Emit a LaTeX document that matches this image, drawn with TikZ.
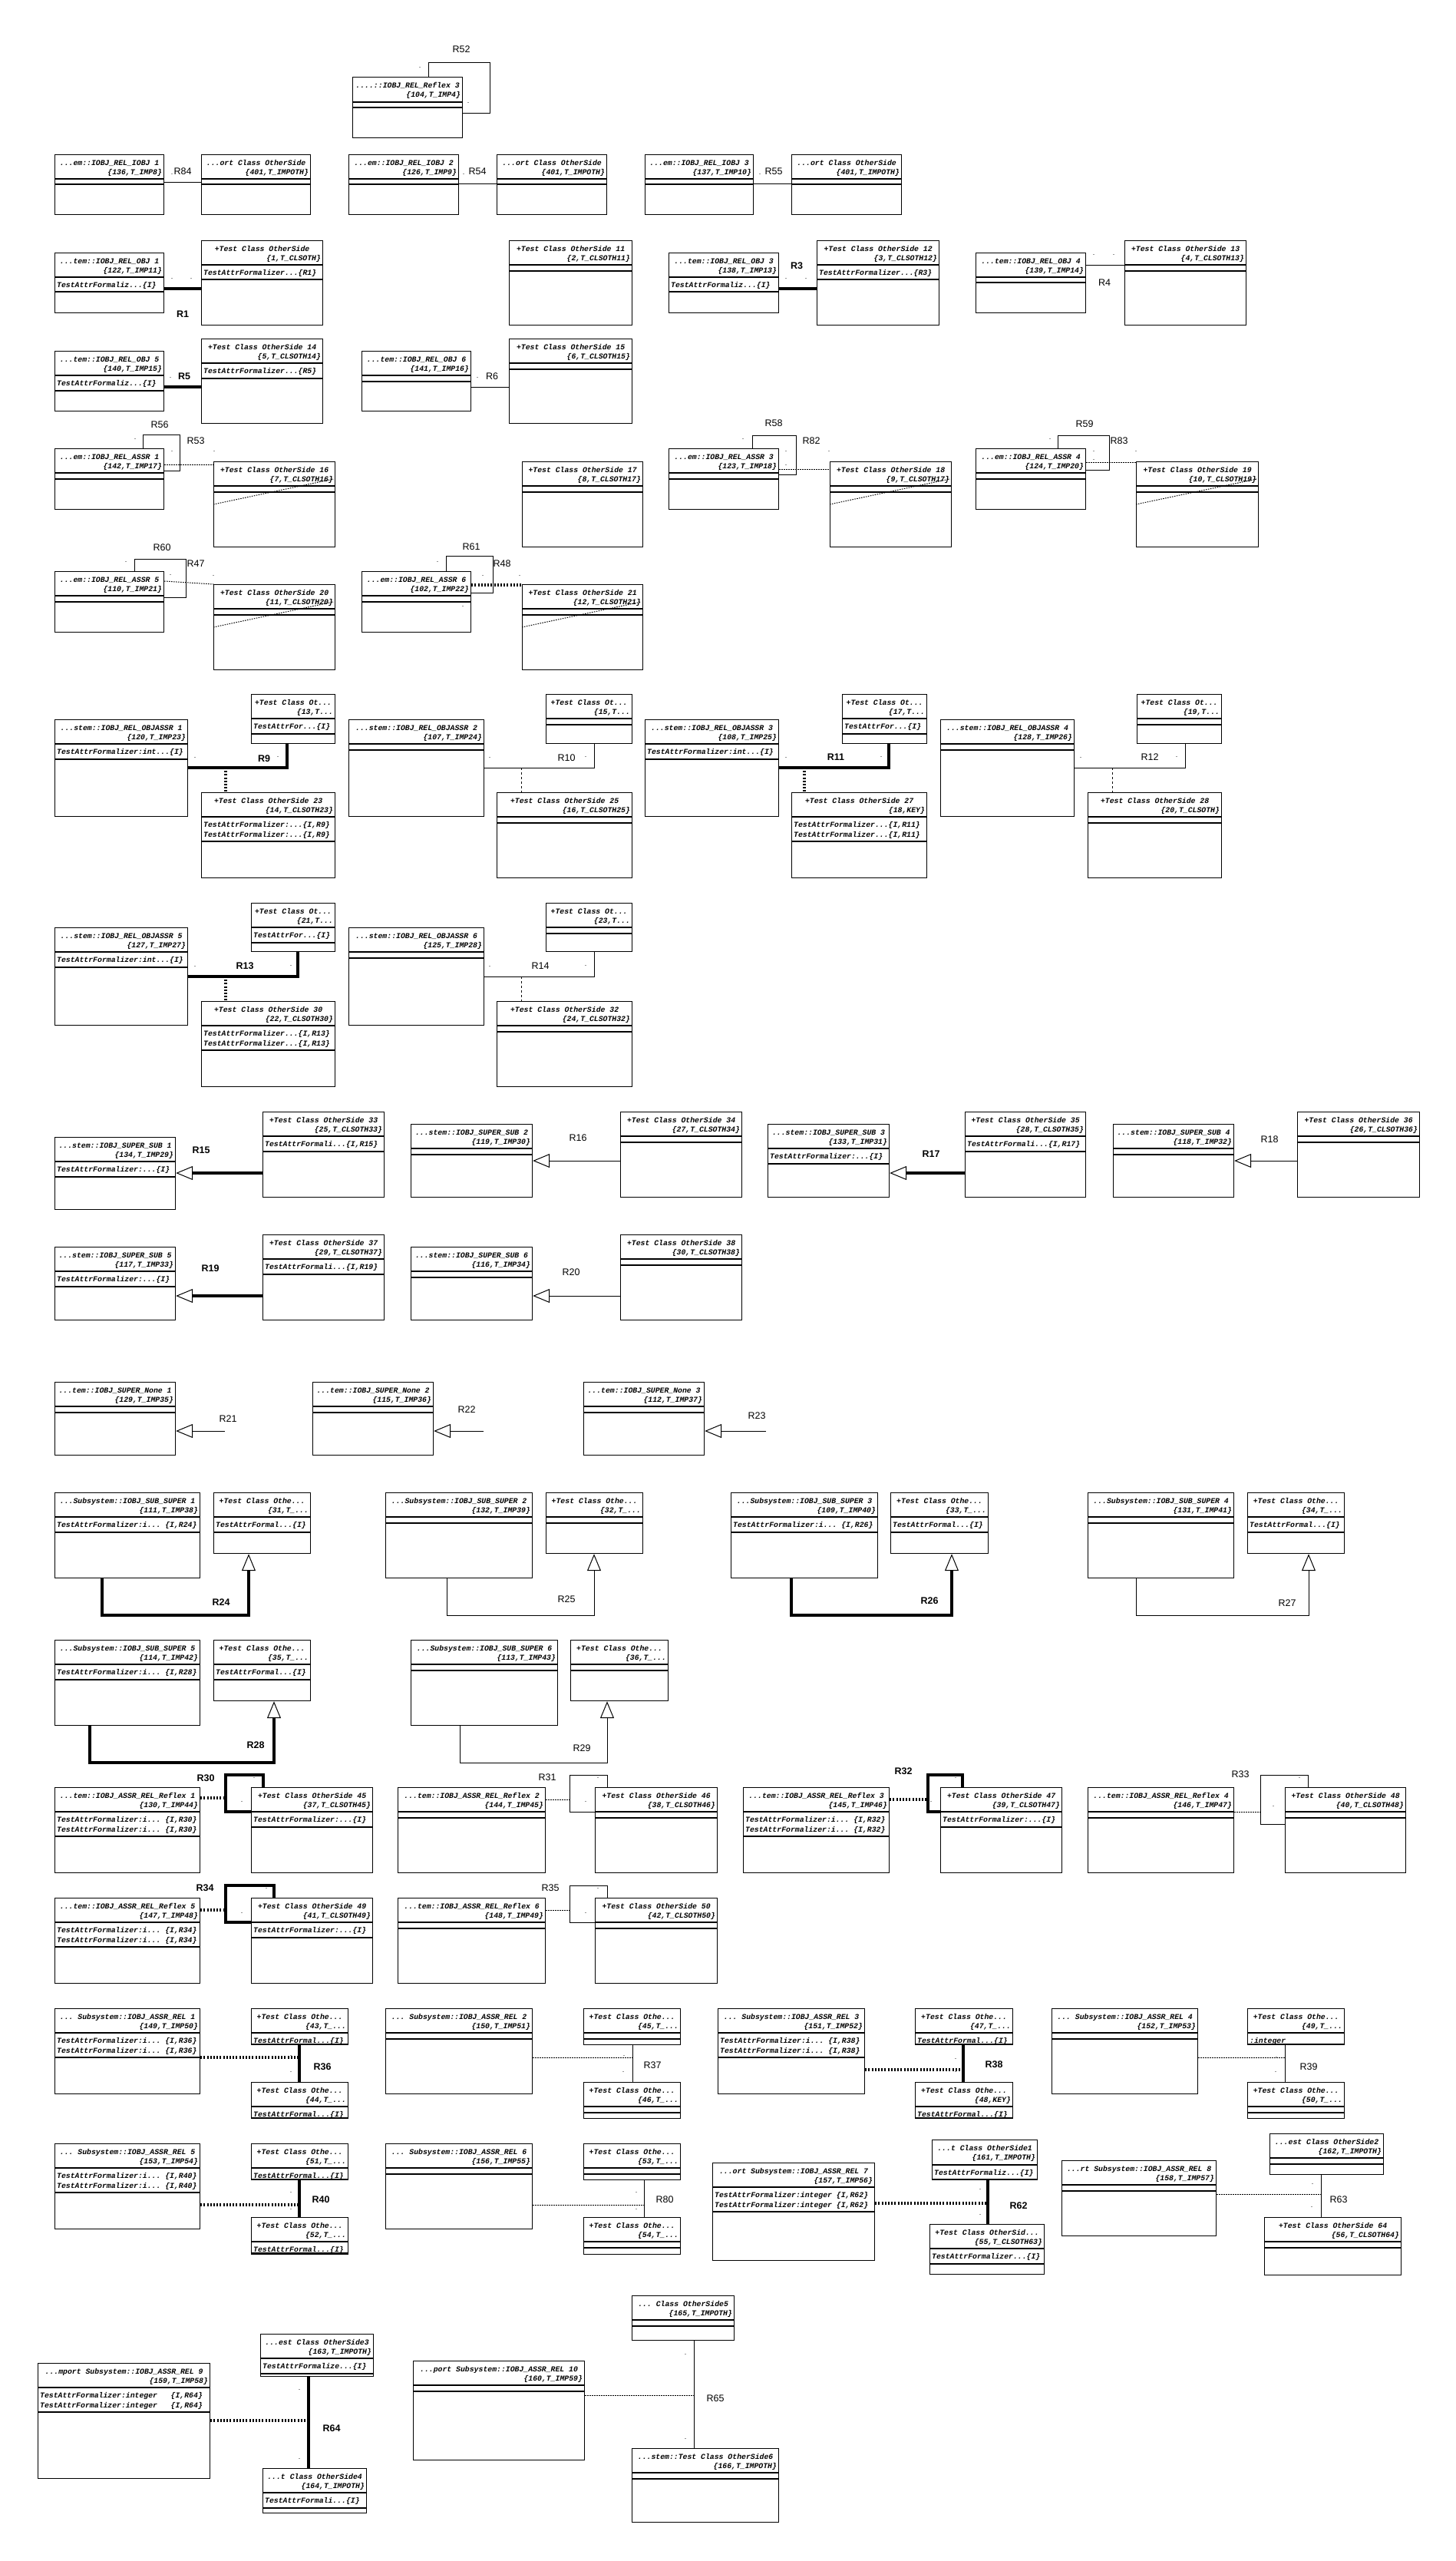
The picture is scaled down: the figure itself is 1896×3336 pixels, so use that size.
\documentclass[tikz,border=0pt]{standalone}
\usepackage{fontspec}
\setmainfont{Liberation Sans}
\setsansfont{Liberation Sans}
\setmonofont{Liberation Mono}
\usetikzlibrary{arrows.meta}

\tikzset{
  classbox/.style={draw, line width=1.2pt, rectangle, inner sep=0pt, anchor=north west},
  classbox line/.style={line width=1.2pt},
  hdrtext/.style={inner sep=0pt, font=\fontsize{9.8}{12}\ttfamily\bfseries\itshape},
  attrtext/.style={inner sep=0pt, anchor=north west, align=left, font=\fontsize{9.8}{13}\ttfamily\bfseries\itshape},
  rlabel/.style={inner sep=0pt, font=\fontsize{12.5}{14}\sffamily},
  rbold/.style={inner sep=0pt, font=\fontsize{12.5}{14}\sffamily\bfseries},
  mult/.style={inner sep=0pt, font=\fontsize{9}{10}\sffamily},
  wire/.style={line width=1pt},
  heavy/.style={line width=3.6pt},
  dotwire/.style={line width=1pt, dash pattern=on 1.5pt off 1.5pt},
  heavydot/.style={line width=3.5pt, dash pattern=on 2pt off 2.2pt},
  dashwire/.style={line width=1pt, dash pattern=on 3.3pt off 2.7pt},
  gen/.style={-{Triangle[open, length=22pt, width=18pt, line width=1pt]}}
}

% \clsbox{name}{x,y}{width}{height}{header}{attr section}{title}{id}{attrs}
\newcommand{\clsbox}[9]{%
  \node[classbox, minimum width=#3pt, minimum height=#4pt] (#1) at (#2) {};
  \draw[classbox line] ([yshift=-#5pt]#1.north west) -- ([yshift=-#5pt]#1.north east);
  \draw[classbox line] ([yshift=-#5pt-#6pt]#1.north west) -- ([yshift=-#5pt-#6pt]#1.north east);
  \node[hdrtext, anchor=base] (#1-t) at ([yshift=-14pt]#1.north) {#7};
  \node[hdrtext, anchor=base east] (#1-i) at ([shift={(-3pt,-26.5pt)}]#1.north east) {#8};
  \node[attrtext] (#1-a) at ([shift={(3pt,-#5pt-6pt)}]#1.north west) {#9};
}

\begin{document}
\begin{tikzpicture}[x=1pt, y=-1pt]
\fill[white] (0,0) rectangle (1896,3336);
\useasboundingbox (0,0) rectangle (1896,3336);

% Classes:
\clsbox{rfx3}{459,100}{143}{79}{33}{7}{....::IOBJ\_REL\_Reflex 3}{\{104,T\_IMP4\}}{}

\clsbox{io1}{71,201}{142}{78}{32}{7}{...em::IOBJ\_REL\_IOBJ 1}{\{136,T\_IMP8\}}{}
\clsbox{os1}{262,201}{142}{78}{32}{7}{...ort Class OtherSide}{\{401,T\_IMPOTH\}}{}
\clsbox{io2}{454,201}{143}{78}{32}{7}{...em::IOBJ\_REL\_IOBJ 2}{\{126,T\_IMP9\}}{}
\clsbox{os2}{647,201}{143}{78}{32}{7}{...ort Class OtherSide}{\{401,T\_IMPOTH\}}{}
\clsbox{io3}{840,201}{141}{78}{32}{7}{...em::IOBJ\_REL\_IOBJ 3}{\{137,T\_IMP10\}}{}
\clsbox{os3}{1031,201}{143}{78}{32}{7}{...ort Class OtherSide}{\{401,T\_IMPOTH\}}{}

\clsbox{ob1}{71,329}{142}{78}{32}{19}{...tem::IOBJ\_REL\_OBJ 1}{\{122,T\_IMP11\}}{TestAttrFormaliz...\{I\}}
\clsbox{cs1}{262,313}{158}{110}{32}{19}{+Test Class OtherSide}{\{1,T\_CLSOTH\}}{TestAttrFormalizer...\{R1\}}
\clsbox{cs11}{663,313}{160}{110}{32}{8}{+Test Class OtherSide 11}{\{2,T\_CLSOTH11\}}{}
\clsbox{ob3}{871,329}{143}{78}{32}{19}{...tem::IOBJ\_REL\_OBJ 3}{\{138,T\_IMP13\}}{TestAttrFormaliz...\{I\}}
\clsbox{cs12}{1064,313}{159}{110}{32}{19}{+Test Class OtherSide 12}{\{3,T\_CLSOTH12\}}{TestAttrFormalizer...\{R3\}}
\clsbox{ob4}{1271,329}{143}{78}{32}{7}{...tem::IOBJ\_REL\_OBJ 4}{\{139,T\_IMP14\}}{}
\clsbox{cs13}{1465,313}{158}{110}{32}{8}{+Test Class OtherSide 13}{\{4,T\_CLSOTH13\}}{}

\clsbox{ob5}{71,457}{142}{78}{32}{20}{...tem::IOBJ\_REL\_OBJ 5}{\{140,T\_IMP15\}}{TestAttrFormaliz...\{I\}}
\clsbox{cs14}{262,441}{158}{110}{32}{20}{+Test Class OtherSide 14}{\{5,T\_CLSOTH14\}}{TestAttrFormalizer...\{R5\}}
\clsbox{ob6}{471,457}{142}{78}{32}{8}{...tem::IOBJ\_REL\_OBJ 6}{\{141,T\_IMP16\}}{}
\clsbox{cs15}{663,441}{160}{110}{32}{8}{+Test Class OtherSide 15}{\{6,T\_CLSOTH15\}}{}

\clsbox{as1}{71,584}{142}{79}{32}{8}{...em::IOBJ\_REL\_ASSR 1}{\{142,T\_IMP17\}}{}
\clsbox{cs16}{278,601}{158}{111}{32}{8}{+Test Class OtherSide 16}{\{7,T\_CLSOTH16\}}{}
\clsbox{cs17}{680,601}{157}{111}{32}{8}{+Test Class OtherSide 17}{\{8,T\_CLSOTH17\}}{}
\clsbox{as3}{871,584}{143}{79}{32}{8}{...em::IOBJ\_REL\_ASSR 3}{\{123,T\_IMP18\}}{}
\clsbox{cs18}{1081,601}{158}{111}{32}{8}{+Test Class OtherSide 18}{\{9,T\_CLSOTH17\}}{}
\clsbox{as4}{1271,584}{143}{79}{32}{8}{...em::IOBJ\_REL\_ASSR 4}{\{124,T\_IMP20\}}{}
\clsbox{cs19}{1480,601}{159}{111}{32}{8}{+Test Class OtherSide 19}{\{10,T\_CLSOTH19\}}{}

\clsbox{as5}{71,744}{142}{79}{32}{8}{...em::IOBJ\_REL\_ASSR 5}{\{110,T\_IMP21\}}{}
\clsbox{cs20}{278,761}{158}{111}{32}{8}{+Test Class OtherSide 20}{\{11,T\_CLSOTH20\}}{}
\clsbox{as6}{471,744}{142}{79}{32}{8}{...em::IOBJ\_REL\_ASSR 6}{\{102,T\_IMP22\}}{}
\clsbox{cs21}{680,761}{157}{111}{32}{8}{+Test Class OtherSide 21}{\{12,T\_CLSOTH21\}}{}

\clsbox{oa1}{71,937}{173}{126}{32}{20}{...stem::IOBJ\_REL\_OBJASSR 1}{\{120,T\_IMP23\}}{TestAttrFormalizer:int...\{I\}}
\clsbox{ot13}{327,904}{109}{64}{32}{20}{+Test Class Ot...}{\{13,T...}{TestAttrFor...\{I\}}
\clsbox{cs23}{262,1032}{174}{111}{32}{32}{+Test Class OtherSide 23}{\{14,T\_CLSOTH23\}}{TestAttrFormalizer:...\{I,R9\}\\TestAttrFormalizer:...\{I,R9\}}
\clsbox{oa2}{454,937}{176}{126}{32}{8}{...stem::IOBJ\_REL\_OBJASSR 2}{\{107,T\_IMP24\}}{}
\clsbox{ot15}{711,904}{112}{64}{32}{8}{+Test Class Ot...}{\{15,T...}{}
\clsbox{cs25}{647,1032}{176}{111}{32}{8}{+Test Class OtherSide 25}{\{16,T\_CLSOTH25\}}{}
\clsbox{oa3}{840,937}{174}{126}{32}{20}{...stem::IOBJ\_REL\_OBJASSR 3}{\{108,T\_IMP25\}}{TestAttrFormalizer:int...\{I\}}
\clsbox{ot17}{1097,904}{110}{64}{32}{20}{+Test Class Ot...}{\{17,T...}{TestAttrFor...\{I\}}
\clsbox{cs27}{1031,1032}{176}{111}{32}{32}{+Test Class OtherSide 27}{\{18,KEY\}}{TestAttrFormalizer...\{I,R11\}\\TestAttrFormalizer...\{I,R11\}}
\clsbox{oa4}{1225,937}{174}{126}{32}{8}{...stem::IOBJ\_REL\_OBJASSR 4}{\{128,T\_IMP26\}}{}
\clsbox{ot19}{1481,904}{110}{64}{32}{8}{+Test Class Ot...}{\{19,T...}{}
\clsbox{cs28}{1417,1032}{174}{111}{32}{8}{+Test Class OtherSide 28}{\{20,T\_CLSOTH\}}{}

\clsbox{oa5}{71,1208}{173}{127}{32}{20}{...stem::IOBJ\_REL\_OBJASSR 5}{\{127,T\_IMP27\}}{TestAttrFormalizer:int...\{I\}}
\clsbox{ot21}{327,1176}{109}{63}{32}{20}{+Test Class Ot...}{\{21,T...}{TestAttrFor...\{I\}}
\clsbox{cs30}{262,1304}{174}{111}{32}{32}{+Test Class OtherSide 30}{\{22,T\_CLSOTH30\}}{TestAttrFormalizer...\{I,R13\}\\TestAttrFormalizer...\{I,R13\}}
\clsbox{oa6}{454,1208}{176}{127}{32}{8}{...stem::IOBJ\_REL\_OBJASSR 6}{\{125,T\_IMP28\}}{}
\clsbox{ot23}{711,1176}{112}{63}{32}{8}{+Test Class Ot...}{\{23,T...}{}
\clsbox{cs32}{647,1304}{176}{111}{32}{8}{+Test Class OtherSide 32}{\{24,T\_CLSOTH32\}}{}

\clsbox{ss1}{71,1481}{157}{94}{32}{20}{...stem::IOBJ\_SUPER\_SUB 1}{\{134,T\_IMP29\}}{TestAttrFormalizer:...\{I\}}
\clsbox{cs33}{342,1448}{158}{111}{32}{20}{+Test Class OtherSide 33}{\{25,T\_CLSOTH33\}}{TestAttrFormali...\{I,R15\}}
\clsbox{ss2}{535,1464}{158}{95}{32}{8}{...stem::IOBJ\_SUPER\_SUB 2}{\{119,T\_IMP30\}}{}
\clsbox{cs34}{808,1448}{158}{111}{32}{8}{+Test Class OtherSide 34}{\{27,T\_CLSOTH34\}}{}
\clsbox{ss3}{1000,1464}{158}{95}{32}{20}{...stem::IOBJ\_SUPER\_SUB 3}{\{133,T\_IMP31\}}{TestAttrFormalizer:...\{I\}}
\clsbox{cs35}{1257,1448}{157}{111}{32}{20}{+Test Class OtherSide 35}{\{28,T\_CLSOTH35\}}{TestAttrFormali...\{I,R17\}}
\clsbox{ss4}{1450,1464}{157}{95}{32}{8}{...stem::IOBJ\_SUPER\_SUB 4}{\{118,T\_IMP32\}}{}
\clsbox{cs36}{1690,1448}{159}{111}{32}{8}{+Test Class OtherSide 36}{\{26,T\_CLSOTH36\}}{}

\clsbox{ss5}{71,1624}{157}{95}{32}{20}{...stem::IOBJ\_SUPER\_SUB 5}{\{117,T\_IMP33\}}{TestAttrFormalizer:...\{I\}}
\clsbox{cs37}{342,1608}{158}{111}{32}{20}{+Test Class OtherSide 37}{\{29,T\_CLSOTH37\}}{TestAttrFormali...\{I,R19\}}
\clsbox{ss6}{535,1624}{158}{95}{32}{8}{...stem::IOBJ\_SUPER\_SUB 6}{\{116,T\_IMP34\}}{}
\clsbox{cs38}{808,1608}{158}{111}{32}{8}{+Test Class OtherSide 38}{\{30,T\_CLSOTH38\}}{}

\clsbox{sn1}{71,1800}{157}{95}{32}{8}{...tem::IOBJ\_SUPER\_None 1}{\{129,T\_IMP35\}}{}
\clsbox{sn2}{407,1800}{157}{95}{32}{8}{...tem::IOBJ\_SUPER\_None 2}{\{115,T\_IMP36\}}{}
\clsbox{sn3}{760,1800}{157}{95}{32}{8}{...tem::IOBJ\_SUPER\_None 3}{\{112,T\_IMP37\}}{}

\clsbox{sp1}{71,1944}{189}{111}{32}{20}{...Subsystem::IOBJ\_SUB\_SUPER 1}{\{111,T\_IMP38\}}{TestAttrFormalizer:i... \{I,R24\}}
\clsbox{co31}{278,1944}{126}{79}{32}{20}{+Test Class Othe...}{\{31,T\_...}{TestAttrFormal...\{I\}}
\clsbox{sp2}{502,1944}{191}{111}{32}{8}{...Subsystem::IOBJ\_SUB\_SUPER 2}{\{132,T\_IMP39\}}{}
\clsbox{co32}{711,1944}{126}{79}{32}{8}{+Test Class Othe...}{\{32,T\_...}{}
\clsbox{sp3}{952,1944}{191}{111}{32}{20}{...Subsystem::IOBJ\_SUB\_SUPER 3}{\{109,T\_IMP40\}}{TestAttrFormalizer:i... \{I,R26\}}
\clsbox{co33}{1160,1944}{127}{79}{32}{20}{+Test Class Othe...}{\{33,T\_...}{TestAttrFormal...\{I\}}
\clsbox{sp4}{1417,1944}{190}{111}{32}{8}{...Subsystem::IOBJ\_SUB\_SUPER 4}{\{131,T\_IMP41\}}{}
\clsbox{co34}{1625,1944}{126}{79}{32}{20}{+Test Class Othe...}{\{34,T\_...}{TestAttrFormal...\{I\}}

\clsbox{sp5}{71,2136}{189}{111}{32}{20}{...Subsystem::IOBJ\_SUB\_SUPER 5}{\{114,T\_IMP42\}}{TestAttrFormalizer:i... \{I,R28\}}
\clsbox{co35}{278,2136}{126}{79}{32}{20}{+Test Class Othe...}{\{35,T\_...}{TestAttrFormal...\{I\}}
\clsbox{sp6}{535,2136}{191}{111}{32}{8}{...Subsystem::IOBJ\_SUB\_SUPER 6}{\{113,T\_IMP43\}}{}
\clsbox{co36}{743,2136}{127}{79}{32}{8}{+Test Class Othe...}{\{36,T\_...}{}

\clsbox{rx1}{71,2328}{189}{111}{32}{32}{...tem::IOBJ\_ASSR\_REL\_Reflex 1}{\{130,T\_IMP44\}}{TestAttrFormalizer:i... \{I,R30\}\\TestAttrFormalizer:i... \{I,R30\}}
\clsbox{os45}{327,2328}{158}{111}{32}{20}{+Test Class OtherSide 45}{\{37,T\_CLSOTH45\}}{TestAttrFormalizer:...\{I\}}
\clsbox{rx2}{518,2328}{192}{111}{32}{8}{...tem::IOBJ\_ASSR\_REL\_Reflex 2}{\{144,T\_IMP45\}}{}
\clsbox{os46}{775,2328}{159}{111}{32}{8}{+Test Class OtherSide 46}{\{38,T\_CLSOTH46\}}{}
\clsbox{rx3}{968,2328}{190}{111}{32}{32}{...tem::IOBJ\_ASSR\_REL\_Reflex 3}{\{145,T\_IMP46\}}{TestAttrFormalizer:i... \{I,R32\}\\TestAttrFormalizer:i... \{I,R32\}}
\clsbox{os47}{1225,2328}{158}{111}{32}{20}{+Test Class OtherSide 47}{\{39,T\_CLSOTH47\}}{TestAttrFormalizer:...\{I\}}
\clsbox{rx4}{1417,2328}{190}{111}{32}{8}{...tem::IOBJ\_ASSR\_REL\_Reflex 4}{\{146,T\_IMP47\}}{}
\clsbox{os48}{1674,2328}{157}{111}{32}{8}{+Test Class OtherSide 48}{\{40,T\_CLSOTH48\}}{}

\clsbox{rx5}{71,2472}{189}{111}{32}{32}{...tem::IOBJ\_ASSR\_REL\_Reflex 5}{\{147,T\_IMP48\}}{TestAttrFormalizer:i... \{I,R34\}\\TestAttrFormalizer:i... \{I,R34\}}
\clsbox{os49}{327,2472}{158}{111}{32}{20}{+Test Class OtherSide 49}{\{41,T\_CLSOTH49\}}{TestAttrFormalizer:...\{I\}}
\clsbox{rx6}{518,2472}{192}{111}{32}{8}{...tem::IOBJ\_ASSR\_REL\_Reflex 6}{\{148,T\_IMP49\}}{}
\clsbox{os50}{775,2472}{159}{111}{32}{8}{+Test Class OtherSide 50}{\{42,T\_CLSOTH50\}}{}

\clsbox{ar1}{71,2616}{189}{111}{32}{32}{... Subsystem::IOBJ\_ASSR\_REL 1}{\{149,T\_IMP50\}}{TestAttrFormalizer:i... \{I,R36\}\\TestAttrFormalizer:i... \{I,R36\}}
\clsbox{oa43}{327,2616}{126}{47}{32}{15}{+Test Class Othe...}{\{43,T\_...}{TestAttrFormal...\{I\}}
\clsbox{ob44}{327,2712}{126}{47}{32}{15}{+Test Class Othe...}{\{44,T\_...}{TestAttrFormal...\{I\}}
\clsbox{ar2}{502,2616}{191}{111}{32}{8}{... Subsystem::IOBJ\_ASSR\_REL 2}{\{150,T\_IMP51\}}{}
\clsbox{oa45}{760,2616}{126}{47}{32}{8}{+Test Class Othe...}{\{45,T\_...}{}
\clsbox{ob46}{760,2712}{126}{47}{32}{8}{+Test Class Othe...}{\{46,T\_...}{}
\clsbox{ar3}{935,2616}{191}{111}{32}{32}{... Subsystem::IOBJ\_ASSR\_REL 3}{\{151,T\_IMP52\}}{TestAttrFormalizer:i... \{I,R38\}\\TestAttrFormalizer:i... \{I,R38\}}
\clsbox{oa47}{1192,2616}{127}{47}{32}{15}{+Test Class Othe...}{\{47,T\_...}{TestAttrFormal...\{I\}}
\clsbox{ob48}{1192,2712}{127}{47}{32}{15}{+Test Class Othe...}{\{48,KEY\}}{TestAttrFormal...\{I\}}
\clsbox{ar4}{1370,2616}{190}{111}{32}{8}{... Subsystem::IOBJ\_ASSR\_REL 4}{\{152,T\_IMP53\}}{}
\clsbox{oa49}{1625,2616}{126}{47}{32}{15}{+Test Class Othe...}{\{49,T\_...}{:integer}
\clsbox{ob50}{1625,2712}{126}{47}{32}{8}{+Test Class Othe...}{\{50,T\_...}{}

\clsbox{ar5}{71,2792}{189}{111}{32}{32}{... Subsystem::IOBJ\_ASSR\_REL 5}{\{153,T\_IMP54\}}{TestAttrFormalizer:i... \{I,R40\}\\TestAttrFormalizer:i... \{I,R40\}}
\clsbox{oa51}{327,2792}{126}{47}{32}{15}{+Test Class Othe...}{\{51,T\_...}{TestAttrFormal...\{I\}}
\clsbox{ob52}{327,2888}{126}{48}{32}{15}{+Test Class Othe...}{\{52,T\_...}{TestAttrFormal...\{I\}}
\clsbox{ar6}{502,2792}{191}{111}{32}{8}{... Subsystem::IOBJ\_ASSR\_REL 6}{\{156,T\_IMP55\}}{}
\clsbox{oa53}{760,2792}{126}{47}{32}{8}{+Test Class Othe...}{\{53,T\_...}{}
\clsbox{ob54}{760,2888}{126}{48}{32}{8}{+Test Class Othe...}{\{54,T\_...}{}
\clsbox{ar7}{928,2817}{211}{127}{32}{32}{...ort Subsystem::IOBJ\_ASSR\_REL 7}{\{157,T\_IMP56\}}{TestAttrFormalizer:integer \{I,R62\}\\TestAttrFormalizer:integer \{I,R62\}}
\clsbox{oc1}{1214,2787}{137}{52}{33}{19}{...t Class OtherSide1}{\{161,T\_IMPOTH\}}{TestAttrFormaliz...\{I\}}
\clsbox{ocs63}{1211,2897}{149}{65}{32}{20}{+Test Class OtherSid...}{\{55,T\_CLSOTH63\}}{TestAttrFormalizer...\{I\}}
\clsbox{ar8}{1383,2814}{201}{98}{32}{8}{...rt Subsystem::IOBJ\_ASSR\_REL 8}{\{158,T\_IMP57\}}{}
\clsbox{oc2}{1654,2779}{148}{53}{32}{8}{...est Class OtherSide2}{\{162,T\_IMPOTH\}}{}
\clsbox{ocs64}{1647,2888}{178}{75}{32}{8}{+Test Class OtherSide 64}{\{56,T\_CLSOTH64\}}{}

\clsbox{ar9}{49,3078}{224}{150}{32}{32}{...mport Subsystem::IOBJ\_ASSR\_REL 9}{\{159,T\_IMP58\}}{TestAttrFormalizer:integer\ \ \ \{I,R64\}\\TestAttrFormalizer:integer\ \ \ \{I,R64\}}
\clsbox{oc3}{339,3040}{147}{55}{32}{20}{...est Class OtherSide3}{\{163,T\_IMPOTH\}}{TestAttrFormalize...\{I\}}
\clsbox{oc4}{342,3215}{135}{58}{32}{20}{...t Class OtherSide4}{\{164,T\_IMPOTH\}}{TestAttrFormali...\{I\}}
\clsbox{ar10}{538,3075}{223}{129}{32}{8}{...port Subsystem::IOBJ\_ASSR\_REL 10}{\{160,T\_IMP59\}}{}
\clsbox{oc5}{823,2990}{133}{58}{32}{8}{... Class OtherSide5}{\{165,T\_IMPOTH\}}{}
\clsbox{oc6}{823,3189}{191}{96}{32}{8}{...stem::Test Class OtherSide6}{\{166,T\_IMPOTH\}}{}

% Associations:
\draw[wire] (rfx3.north -| 558,0) |- (638,81) |- (rfx3.east |- 0,147);
\draw[wire] (io1.east |- 0,237) -- (os1.west |- 0,237);
\draw[wire] (io2.east |- 0,239) -- (os2.west |- 0,239);
\draw[wire] (io3.east |- 0,239) -- (os3.west |- 0,239);
\draw[heavy] (ob1.east |- 0,376) -- (cs1.west |- 0,376);
\draw[heavy] (ob3.east |- 0,376) -- (cs12.west |- 0,376);
\draw[wire] (ob4.east |- 0,345) -- (cs13.west |- 0,345);
\draw[heavy] (ob5.east |- 0,504) -- (cs14.west |- 0,504);
\draw[wire] (ob6.east |- 0,504) -- (cs15.west |- 0,504);

\draw[wire] (as1.north -| 186,0) |- (234,566) |- (as1.east |- 0,613);
\draw[dotwire] (as1.east |- 0,605) -- (cs16.west |- 0,605);
\draw[wire] (as3.north -| 980,0) |- (1037,567) |- (as3.east |- 0,618);
\draw[dotwire] (as3.east |- 0,611) -- (cs18.west |- 0,611);
\draw[wire] (as4.north -| 1378,0) |- (1445,567) |- (as4.east |- 0,612);
\draw[dotwire] (as4.east |- 0,602) -- (cs19.west |- 0,602);
\draw[wire] (as5.north -| 175,0) |- (242,728) |- (as5.east |- 0,778);
\draw[dotwire] (as5.east |- 0,757) -- (cs20.north west);
\draw[wire] (as6.north -| 581,0) |- (642,724) |- (as6.east |- 0,772);
\draw[heavydot] (as6.east |- 0,762) -- (cs21.west |- 0,762);
\foreach \c in {cs16,cs18,cs19,cs20,cs21}
  \draw[dotwire] ([yshift=-56pt]\c.north west) -- ([shift={(-3pt,-23pt)}]\c.north east);

% Associative links:
\draw[heavy] (oa1.east |- 0,1000) -| (ot13.south -| 374,0);
\draw[wire] (oa2.east |- 0,1000) -| (ot15.south -| 774,0);
\draw[heavy] (oa3.east |- 0,1000) -| (ot17.south -| 1158,0);
\draw[wire] (oa4.east |- 0,1000) -| (ot19.south -| 1544,0);
\draw[heavy] (oa5.east |- 0,1272) -| (ot21.south -| 388,0);
\draw[wire] (oa6.east |- 0,1272) -| (ot23.south -| 774,0);
\coordinate (r9a) at (294,1000);
\coordinate (r10a) at (679,1000);
\coordinate (r11a) at (1048,1000);
\coordinate (r12a) at (1449,1000);
\coordinate (r13a) at (294,1272);
\coordinate (r14a) at (679,1272);
\draw[heavydot] (r9a) -- (r9a |- cs23.north);
\draw[dashwire] (r10a) -- (r10a |- cs25.north);
\draw[heavydot] (r11a) -- (r11a |- cs27.north);
\draw[dashwire] (r12a) -- (r12a |- cs28.north);
\draw[heavydot] (r13a) -- (r13a |- cs30.north);
\draw[dashwire] (r14a) -- (r14a |- cs32.north);

% Generalizations:
\draw[heavy, gen] (cs33.west |- 0,1528) -- (ss1.east |- 0,1528);
\draw[wire, gen] (cs34.west |- 0,1512) -- (ss2.east |- 0,1512);
\draw[heavy, gen] (cs35.west |- 0,1528) -- (ss3.east |- 0,1528);
\draw[wire, gen] (cs36.west |- 0,1512) -- (ss4.east |- 0,1512);
\draw[heavy, gen] (cs37.west |- 0,1688) -- (ss5.east |- 0,1688);
\draw[wire, gen] (cs38.west |- 0,1688) -- (ss6.east |- 0,1688);
\coordinate (r21e) at (293,1864);
\coordinate (r22e) at (630,1864);
\coordinate (r23e) at (998,1864);
\draw[wire, gen] (r21e) -- (sn1.east |- r21e);
\draw[wire, gen] (r22e) -- (sn2.east |- r22e);
\draw[wire, gen] (r23e) -- (sn3.east |- r23e);
\draw[heavy, gen] (sp1.south -| 133,0) -- (133,2104) -| (co31.south -| 324,0);
\draw[wire, gen] (sp2.south -| 582,0) -- (582,2104) -| (co32.south -| 774,0);
\draw[heavy, gen] (sp3.south -| 1031,0) -- (1031,2104) -| (co33.south -| 1240,0);
\draw[wire, gen] (sp4.south -| 1480,0) -- (1480,2104) -| (co34.south -| 1705,0);
\draw[heavy, gen] (sp5.south -| 117,0) -- (117,2296) -| (co35.south -| 357,0);
\draw[wire, gen] (sp6.south -| 599,0) -- (599,2296) -| (co36.south -| 791,0);

% Reflexive associative:
\draw[heavy] (os45.north -| 343,0) |- (294,2312) |- (os45.west |- 0,2360);
\draw[wire] (os46.north -| 791,0) |- (742,2312) |- (os46.west |- 0,2360);
\draw[heavy] (os47.north -| 1254,0) |- (1209,2312) |- (os47.west |- 0,2360);
\draw[wire] (os48.north -| 1704,0) |- (1642,2312) |- (os48.west |- 0,2376);
\draw[heavy] (os49.north -| 357,0) |- (294,2456) |- (os49.west |- 0,2504);
\draw[wire] (os50.north -| 791,0) |- (742,2456) |- (os50.west |- 0,2504);
\coordinate (r30c) at (294,2342);
\coordinate (r31c) at (742,2344);
\coordinate (r32c) at (1209,2344);
\coordinate (r33c) at (1642,2360);
\coordinate (r34c) at (294,2488);
\coordinate (r35c) at (742,2488);
\draw[heavydot] (rx1.east |- r30c) -- (r30c);
\draw[dotwire] (rx2.east |- r31c) -- (r31c);
\draw[heavydot] (rx3.east |- r32c) -- (r32c);
\draw[dotwire] (rx4.east |- r33c) -- (r33c);
\draw[heavydot] (rx5.east |- r34c) -- (r34c);
\draw[dotwire] (rx6.east |- r35c) -- (r35c);

% Vertical associations with link classes:
\draw[heavy] (oa43.south -| 390,0) -- (ob44.north -| 390,0);
\draw[wire] (oa45.south -| 824,0) -- (ob46.north -| 824,0);
\draw[heavy] (oa47.south -| 1255,0) -- (ob48.north -| 1255,0);
\draw[wire] (oa49.south -| 1674,0) -- (ob50.north -| 1674,0);
\draw[heavy] (oa51.south -| 390,0) -- (ob52.north -| 390,0);
\draw[wire] (oa53.south -| 839,0) -- (ob54.north -| 839,0);
\draw[heavy] (oc1.south -| 1287,0) -- (ocs63.north -| 1287,0);
\draw[wire] (oc2.south -| 1721,0) -- (ocs64.north -| 1721,0);
\draw[heavy] (oc3.south -| 402,0) -- (oc4.north -| 402,0);
\draw[wire] (oc5.south -| 904,0) -- (oc6.north -| 904,0);
\coordinate (r36c) at (390,2680);
\coordinate (r37c) at (824,2680);
\coordinate (r38c) at (1255,2696);
\coordinate (r39c) at (1674,2680);
\coordinate (r40c) at (390,2872);
\coordinate (r80c) at (839,2872);
\coordinate (r62c) at (1287,2870);
\coordinate (r63c) at (1721,2858);
\coordinate (r64c) at (402,3153);
\coordinate (r65c) at (904,3120);
\draw[heavydot] (ar1.east |- r36c) -- (r36c);
\draw[dotwire] (ar2.east |- r37c) -- (r37c);
\draw[heavydot] (ar3.east |- r38c) -- (r38c);
\draw[dotwire] (ar4.east |- r39c) -- (r39c);
\draw[heavydot] (ar5.east |- r40c) -- (r40c);
\draw[dotwire] (ar6.east |- r80c) -- (r80c);
\draw[heavydot] (ar7.east |- r62c) -- (r62c);
\draw[dotwire] (ar8.east |- r63c) -- (r63c);
\draw[heavydot] (ar9.east |- r64c) -- (r64c);
\draw[dotwire] (ar10.east |- r65c) -- (r65c);

% Labels:
\foreach \lx/\ly/\lt in {601/64/R52, 238/223/R84, 622/223/R54, 1008/223/R55, 1439/368/R4,
  641/490/R6, 208/553/R56, 255/574/R53, 1008/551/R58, 1057/574/R82, 1413/552/R59,
  1458/574/R83, 211/713/R60, 255/734/R47, 614/712/R61, 654/734/R48, 738/987/R10,
  1498/986/R12, 704/1258/R14, 753/1482/R16, 1654/1484/R18, 744/1657/R20,
  297/1848/R21, 608/1836/R22, 986/1844/R23, 738/2083/R25, 1677/2088/R27,
  758/2277/R29, 713/2315/R31, 1616/2311/R33, 717/2459/R35, 850/2690/R37,
  1705/2692/R39, 866/2865/R80, 1744/2865/R63, 932/3124/R65}
  \node[rlabel] (l\lt) at (\lx,\ly) {\lt};
\foreach \lx/\ly/\lt in {238/409/R1, 1038/346/R3, 240/490/R5, 344/988/R9, 1089/986/R11,
  319/1258/R13, 262/1498/R15, 1213/1503/R17, 274/1652/R19, 288/2087/R24,
  1211/2085/R26, 333/2273/R28, 268/2316/R30, 1177/2307/R32, 267/2459/R34,
  420/2692/R36, 1295/2689/R38, 418/2865/R40, 1327/2873/R62, 432/3163/R64}
  \node[rbold] (l\lt) at (\lx,\ly) {\lt};

% Multiplicity marks:
\foreach \mx/\my [count=\k] in {547/88, 610/134, 224/227, 604/227, 990/227,
  224/363, 249/363, 1024/363, 1050/363, 1425/332, 1451/332, 222/492, 622/492,
  176/572, 224/588, 279/588, 968/572, 1024/588, 1080/588, 1024/606, 1368/572,
  1425/588, 1480/588, 1425/599, 164/732, 222/749, 278/750, 570/732, 629/750,
  677/750, 603/790, 254/987, 362/986, 638/987, 763/986, 1024/987, 1148/986,
  1408/987, 1533/986, 254/1259, 379/1258, 638/1259, 763/1258, 331/2316,
  315/2347, 779/2316, 763/2347, 1245/2316, 1213/2347, 1693/2316, 1659/2353,
  347/2460, 315/2492, 779/2460, 763/2492, 379/2678, 379/2699, 813/2678,
  812/2699, 1245/2682, 1245/2699, 1663/2680, 1662/2699, 379/2856, 379/2878,
  829/2856, 829/2878, 1277/2852, 1277/2885, 1710/2845, 1709/2875, 390/3113,
  390/3203, 893/3067, 893/3177}
  \node[mult] (m\k) at (\mx,\my) {.};
\end{tikzpicture}
\end{document}
